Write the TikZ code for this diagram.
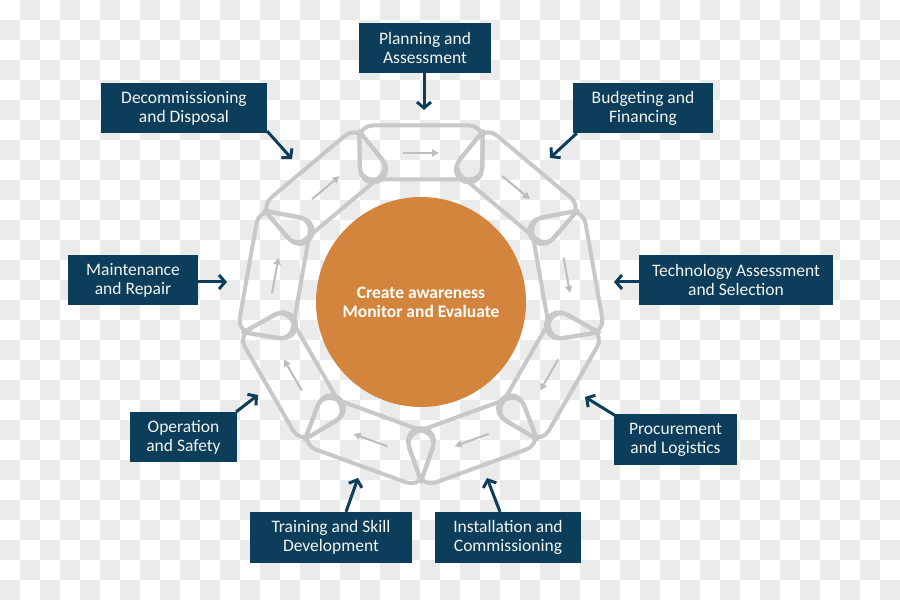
\documentclass[tikz,border=0pt]{standalone}
\usepackage{fontspec}
\setmainfont{Carlito}
\usetikzlibrary{arrows.meta,calc}
\definecolor{boxblue}{HTML}{0C3E5C}
\definecolor{linkgray}{HTML}{C8C8C8}
\definecolor{arrgray}{HTML}{BDBDBD}
\definecolor{hubor}{HTML}{D3843D}
\definecolor{checkgray}{HTML}{EBEBEB}
\definecolor{boxtext}{HTML}{F4F4EC}
\tikzset{
  labelbox/.style={fill=boxblue, text=boxtext, align=center, inner sep=0pt,
    font=\fontsize{17.5}{19}\selectfont},
  linkbox/.style={draw=linkgray, line width=4pt, rounded corners=13pt, inner sep=0pt,
    minimum width=123pt, minimum height=54pt},
  tear/.style={draw=linkgray, line width=4pt, line join=round},
  flowarr/.style={draw=arrgray, line width=2pt, -{Triangle[length=7pt,width=7pt]}},
  callout/.style={draw=boxblue, line width=3pt, -{Straight Barb[length=6pt,width=14pt]}}
}
\begin{document}
\begin{tikzpicture}[x=1pt,y=1pt]
\useasboundingbox (0,0) rectangle (900,600);
% checkerboard background
\fill[white] (0,0) rectangle (900,600);
\foreach \j in {0,...,29}{
  \pgfmathtruncatemacro\s{mod(\j+1,2)}
  \pgfmathtruncatemacro\t{\s+2}
  \foreach \i in {\s,\t,...,44}{
    \fill[checkgray] (\i*20,600-\j*20) rectangle ++(20,-20);
  }
}
\coordinate (O) at (421,299);
% chain links
\foreach \k in {0,...,8}{
  \pgfmathsetmacro\th{90-40*\k}
  \node[linkbox, rotate=\th-90] (link\k) at ($(O)+(\th:148.5)$) {};
  \draw[flowarr] ($(O)+(\th:148)+(\th+90:18)$) -- ($(O)+(\th:148)+(\th-90:18)$);
}
% joints
\foreach \k in {0,...,8}{
  \pgfmathsetmacro\ph{70-40*\k}
  \begin{scope}[shift={(O)}, rotate=\ph]
    \draw[tear] (181,0) -- (144.02,12.36) arc[start angle=72, end angle=288, radius=13] -- cycle;
  \end{scope}
}
% hub
\node[circle, fill=hubor, minimum size=210pt, inner sep=0pt, text=white, align=center,
  font=\fontsize{17.5}{19}\selectfont\bfseries] (hub) at (421,298) {Create awareness\\Monitor and Evaluate};
% label boxes
\node[labelbox, minimum width=132pt, minimum height=50pt] (b1) at (425,552) {Planning and\\Assessment};
\node[labelbox, minimum width=140pt, minimum height=50pt] (b2) at (643,492) {Budgeting and\\Financing};
\node[labelbox, minimum width=194pt, minimum height=50pt] (b3) at (736,320) {Technology Assessment\\and Selection};
\node[labelbox, minimum width=123pt, minimum height=51pt] (b4) at (675.5,160) {Procurement\\and Logistics};
\node[labelbox, minimum width=146pt, minimum height=51pt] (b5) at (508,62.5) {Installation and\\Commissioning};
\node[labelbox, minimum width=162pt, minimum height=51pt] (b6) at (331,62.5) {Training and Skill\\Development};
\node[labelbox, minimum width=107pt, minimum height=50pt] (b7) at (183.5,163) {Operation\\and Safety};
\node[labelbox, minimum width=130pt, minimum height=50pt] (b8) at (133,320) {Maintenance\\and Repair};
\node[labelbox, minimum width=166pt, minimum height=50pt] (b9) at (184,492) {Decommissioning\\and Disposal};
% arrow tips
\coordinate (t1) at (424,490);
\coordinate (t2) at (550,442);
\coordinate (t3) at (614,318);
\coordinate (t4) at (585,203);
\coordinate (t5) at (487,122);
\coordinate (t6) at (358,122);
\coordinate (t7) at (258,205);
\coordinate (t8) at (227,318);
\coordinate (t9) at (292,441);
\draw[callout] ([xshift=-1pt]b1.south) -- (t1);
\draw[callout] ([xshift=4pt]b2.south west) -- (t2);
\draw[callout] ([yshift=-2pt]b3.west) -- (t3);
\draw[callout] ([xshift=1pt,yshift=-1pt]b4.north west) -- (t4);
\draw[callout] ([xshift=-8pt]b5.north) -- (t5);
\draw[callout] ([xshift=15pt]b6.north) -- (t6);
\draw[callout] ([xshift=-1pt]b7.north east) -- (t7);
\draw[callout] ([yshift=-2pt]b8.east) -- (t8);
\draw[callout] ([yshift=2pt]b9.south east) -- (t9);
\end{tikzpicture}
\end{document}
